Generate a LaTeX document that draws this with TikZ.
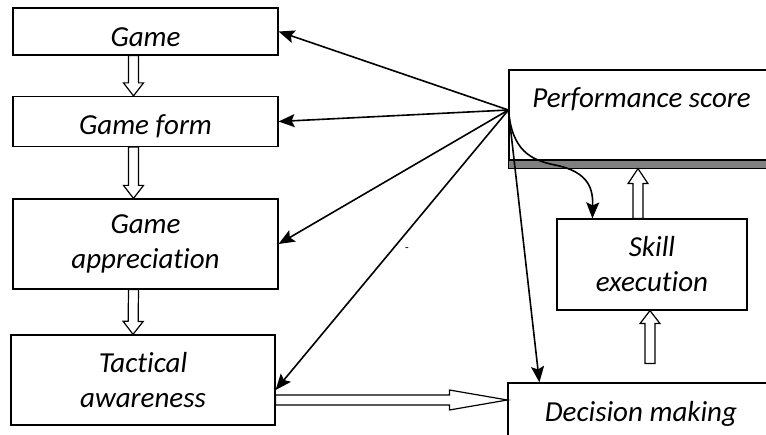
\documentclass[tikz,border=0pt]{standalone}
\usepackage{fontspec}
\setmainfont{Carlito}[Ligatures=NoCommon]
\usepackage{tikz}
\usetikzlibrary{calc}
\usetikzlibrary{arrows.meta}
\tikzset{>={Stealth[length=16pt,width=13pt,inset=3pt]}}
\tikzset{stage/.style={draw, line width=1.2pt, inner sep=0pt, align=center, font=\fontsize{29}{35}\selectfont\itshape}}
\tikzset{link/.style={->, line width=1.6pt}}
\tikzset{hollow/.style={draw, fill=white, line width=1.2pt, line join=miter}}

% open block arrow from #2 to #3, head length #1
\newcommand{\hollowarrow}[3][13pt]{%
  \coordinate (hb) at ($(#3)!#1!(#2)$);
  \path[hollow] ($(#2)!5pt!90:(#3)$) -- ($(hb)!5pt!90:(#3)$) -- ($(hb)!10pt!90:(#3)$) -- (#3)
    -- ($(hb)!10pt!-90:(#3)$) -- ($(hb)!5pt!-90:(#3)$) -- ($(#2)!5pt!-90:(#3)$) -- cycle;}

\begin{document}
\begin{tikzpicture}[x=1pt, y=-1pt]
                    \useasboundingbox (0,0) rectangle (766,435);
                    \clip (0,0) rectangle (766,435);

                    % left column
                    \node[stage, minimum width=265pt, minimum height=47pt, text height=30pt, text depth=0pt] (game) at (145.5,31.5) {Game};
                    \node[stage, minimum width=265pt, minimum height=50pt, text height=26pt, text depth=0pt] (gameform) at (145.5,121.5) {Game form};
                    \node[stage, minimum width=265pt, minimum height=90pt] (appreciation) at (145.5,244) {Game\\appreciation};
                    \node[stage, minimum width=264pt, minimum height=90pt] (tactical) at (143,380) {Tactical\\awareness};

                    % right column
                    \node[stage, minimum width=265pt, minimum height=90pt] (perf) at (641.5,115) {Performance score\\ \mbox{}};
                    \draw[fill=gray, line width=1pt] (perf.south west) rectangle ($(perf.south east)+(0,8)$);
                    \node[stage, minimum width=190pt, minimum height=91pt] (skill) at (652,264.5) {Skill\\execution};
                    \node[stage, minimum width=266pt, minimum height=62pt] (decision) at (641,414) {Decision making};
                    \node[font=\fontsize{12}{12}\selectfont] (dash) at (407,250) {-};

                    % feedback from the score
                    \coordinate (hub) at ($(perf.west)+(0,-5)$);
                    \draw[link] (hub) -- (game.east);
                    \draw[link] (hub) -- (gameform.east);
                    \draw[link] (hub) -- (appreciation.east);
                    \draw[link] (hub) -- ($(tactical.east)+(0,10)$);
                    \draw[link] (hub) -- ($(decision.north west)+(32,0)$);
                    \draw[link] (hub) .. controls (512,150) and (530,160) .. (555,165)
                        .. controls (590,172) and (593,190) .. ($(skill.north west)+(36,0)$);

                    % open arrows
                    \coordinate (g1) at ($(game.south)+(-12,0)$);
                    \coordinate (g2) at ($(gameform.north)+(-12,0)$);
                    \coordinate (g3) at ($(gameform.south)+(-12,0)$);
                    \coordinate (g4) at ($(appreciation.north)+(-12,0)$);
                    \coordinate (g5) at ($(appreciation.south)+(-12,0)$);
                    \coordinate (g6) at ($(tactical.north)+(-10,0)$);
                    \coordinate (t1) at ($(tactical.east)+(0,20)$);
                    \coordinate (t2) at ($(decision.west)+(0,-14)$);
                    \coordinate (s1) at ($(skill.north)+(-14,0)$);
                    \coordinate (s2) at ($(perf.south)+(-3.5,8)$);
                    \coordinate (d1) at ($(skill.south)+(-2,53)$);
                    \coordinate (d2) at ($(skill.south)+(-2,0)$);
                    \hollowarrow{g1}{g2}
                    \hollowarrow{g3}{g4}
                    \hollowarrow{g5}{g6}
                    \hollowarrow[58pt]{t1}{t2}
                    \hollowarrow[15pt]{s1}{s2}
                    \hollowarrow{d1}{d2}
\end{tikzpicture}
\end{document}
